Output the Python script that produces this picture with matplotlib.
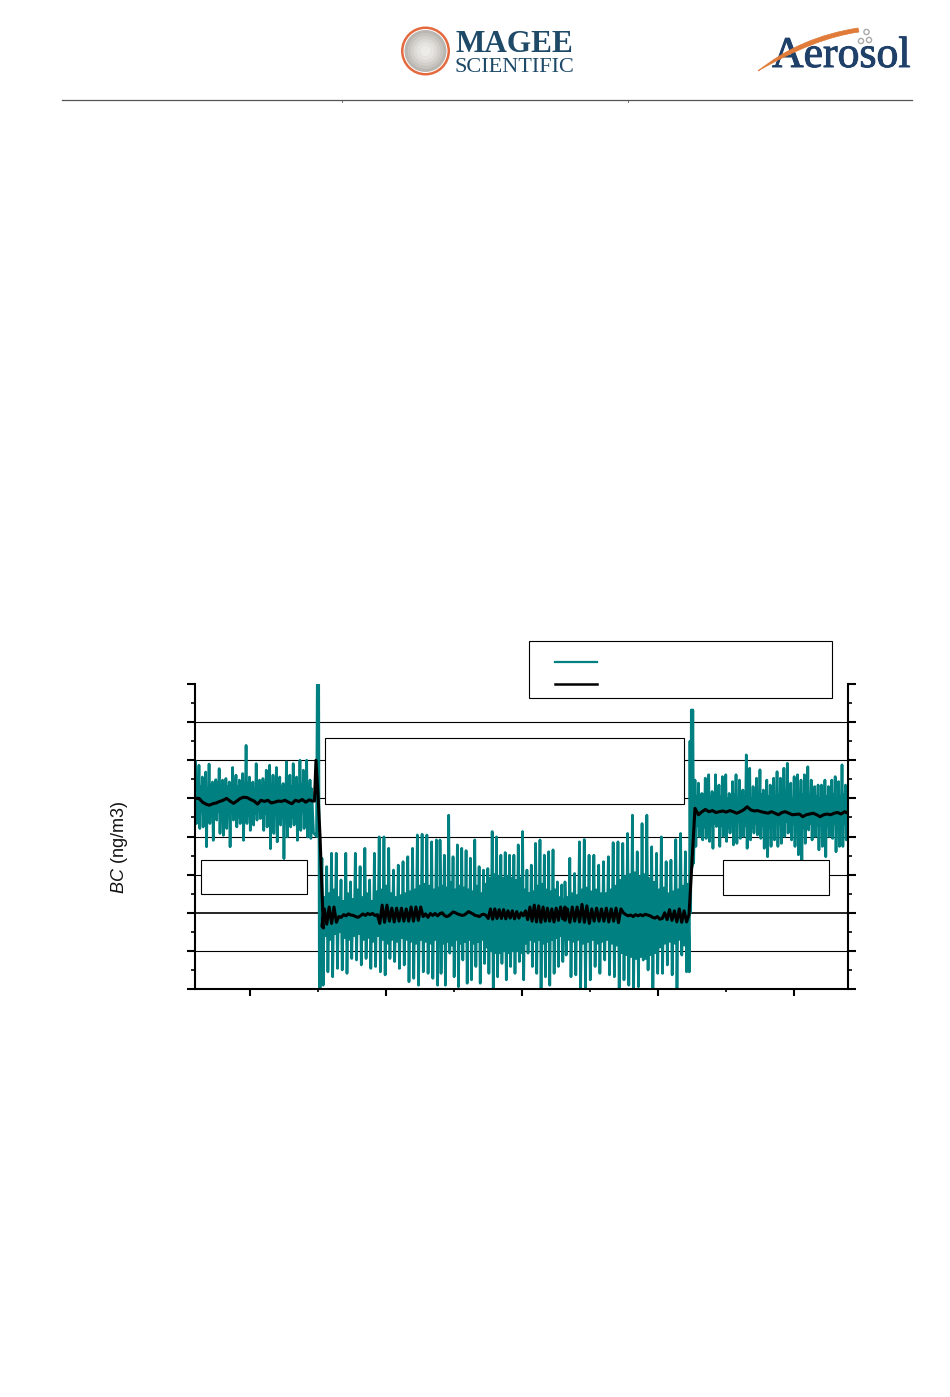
import numpy as np
import matplotlib
matplotlib.use("Agg")
import matplotlib.pyplot as plt
import matplotlib.patheffects as pe
from matplotlib.patches import Circle, Rectangle, PathPatch
from matplotlib.path import Path

plt.rcParams['font.family'] = ['Liberation Sans', 'DejaVu Sans']
plt.rcParams['mathtext.fontset'] = 'custom'
plt.rcParams['mathtext.it'] = 'Liberation Sans:italic'
plt.rcParams['mathtext.rm'] = 'Liberation Sans'

TEAL = '#008080'
Y_LABEL = r'$\mathit{BC}$ (ng/m3)'

# ---- teal series, read per oscillation cycle: peak, trough, inner high, inner low
left_top = [5.96,5.87,5.56,5.69,5.9,5.43,5.49,5.78,5.48,5.52,5.43,5.81,5.61,5.48,5.65,6.39,5.56,5.43,5.91,5.48,5.52,5.74,5.87,5.61,5.81,5.56,5.39,5.96,5.61,5.91,5.56,6.0,5.74,6.0,5.48]
left_lo = [4.6,4.65,4.55,4.7,4.6,4.5,4.65,4.6,4.55,4.7,4.6,4.65,4.5,4.6,4.7,4.55,4.65,4.6,4.7,4.5,4.6,4.55,4.65,4.7,4.6,4.55,4.65,4.6,4.5,4.7,4.6,4.65,4.55,4.6,4.65]
left_hi = [5.35,5.3,5.4,5.25,5.35,5.3,5.4,5.35,5.25,5.3,5.4,5.35,5.3,5.25,5.35,5.4,5.3,5.25,5.35,5.3,5.4,5.3,5.35,5.25,5.4,5.3,5.2,5.35,5.3,5.4,5.3,5.35,5.4,5.3,5.25]
left_bot = [4.34,4.21,4.25,3.73,4.34,3.9,4.43,4.08,4.03,4.21,3.73,4.43,4.25,4.34,3.9,4.34,4.16,4.3,4.43,4.47,4.16,4.25,3.68,4.08,3.86,4.3,3.42,3.99,4.25,4.3,3.9,4.16,4.21,3.99,3.95]

m1_top = [3.43,3.21,3.56,3.56,2.86,3.56,2.81,3.56,3.21,3.69,2.86,3.56,3.99,3.99,3.69,3.12,3.25,3.34,3.47,3.69,4.04,4.06,4.04,3.86,3.91]
m1_lo = [1.4,1.3,1.45,1.5,1.35,1.3,1.4,1.45,1.3,1.35,1.25,1.4,1.3,1.2,1.3,1.25,1.35,1.3,1.25,1.2,1.3,1.25,1.2,1.3,1.25]
m1_hi = [2.4,2.5,2.6,2.4,2.3,2.5,2.35,2.6,2.4,2.5,2.3,2.55,2.6,2.7,2.5,2.4,2.45,2.5,2.55,2.6,2.7,2.75,2.7,2.6,2.65]
m1_bot = [0.1,0.45,0.32,0.54,0.5,0.41,0.8,0.76,0.63,0.8,0.54,0.59,0.45,0.37,0.8,0.72,0.54,0.63,0.19,0.28,0.1,0.45,0.41,0.28,0.1]

m2_top = [3.91,3.51,4.56,3.47,3.78,3.69,3.63,3.43,3.91,3.21,3.12,3.16,4.13,3.99,3.51,3.58,3.51,3.51,3.78,4.13,3.12,3.25,3.82,3.91,3.51,3.6,3.65,2.81,2.73]
m2_lo = [1.2,1.25,1.15,1.3,1.2,1.25,1.3,1.2,1.25,1.3,1.1,1.0,0.95,0.95,1.0,0.95,1.0,1.0,0.95,1.2,1.3,1.25,1.3,1.2,1.25,1.3,1.35,1.4,1.3]
m2_hi = [2.7,2.65,2.8,2.6,2.7,2.65,2.6,2.55,2.7,2.5,2.75,2.9,3.0,2.95,2.9,2.95,2.9,2.85,2.9,2.6,2.5,2.55,2.7,2.75,2.6,2.55,2.6,2.4,2.35]
m2_bot = [0.41,0.1,0.94,0.32,0.06,0.76,0.15,0.24,0.59,0.15,0.67,0.41,0.02,0.32,0.67,0.24,0.59,0.41,0.72,0.24,0.94,0.59,0.41,0.02,0.32,0.1,0.41,0.59,0.72]

m3_top = [2.81,3.43,3.03,3.86,3.92,3.51,3.51,3.25,3.34,3.47,3.84,3.86,3.82,4.08,4.56,3.6,4.34,4.56,3.73,3.56,3.99,3.34,3.38,3.92,4.08,3.6]
m3_lo = [1.3,1.25,1.3,1.2,1.25,1.3,1.2,1.25,1.3,1.2,1.15,0.95,0.9,0.85,0.8,0.85,0.8,0.9,0.95,1.1,1.2,1.25,1.2,1.3,1.15,1.1]
m3_hi = [2.4,2.5,2.45,2.6,2.65,2.55,2.6,2.5,2.5,2.6,2.7,2.85,2.95,3.0,3.05,2.95,3.0,2.9,2.8,2.6,2.65,2.5,2.55,2.6,2.7,2.75]
m3_bot = [0.89,0.32,0.37,0.02,0.02,0.24,0.59,0.41,0.76,0.37,0.32,0.02,0.24,0.1,0.02,0.06,0.76,0.5,0.02,0.41,0.41,0.63,0.37,0.02,0.89,0.45]

right_top = [5.48,5.4,5.13,5.53,5.62,5.18,5.62,5.35,5.57,5.62,5.13,5.44,5.62,5.48,5.22,6.14,5.79,5.31,5.53,5.75,5.22,5.48,5.35,5.53,5.7,5.53,5.79,5.92,5.4,5.57,5.62,5.48,5.62,5.83,5.48,5.31,5.35,5.35,5.48,5.31,5.48,5.57,5.44,5.88,5.35]
right_lo = [4.3,4.35,4.25,4.4,4.3,4.35,4.45,4.3,4.4,4.25,4.35,4.3,4.4,4.35,4.3,4.4,4.25,4.35,4.4,4.3,4.35,4.25,4.3,4.4,4.35,4.3,4.4,4.25,4.35,4.3,4.4,4.25,4.3,4.35,4.4,4.3,4.35,4.25,4.3,4.4,4.35,4.3,4.25,4.35,4.3]
right_hi = [5.05,5.0,5.1,4.95,5.05,5.0,5.1,5.05,4.95,5.0,5.05,5.1,5.0,4.95,5.05,5.1,5.0,5.05,4.95,5.1,5.0,5.05,4.95,5.0,5.1,5.05,5.0,5.1,4.95,5.05,5.0,5.1,5.05,4.95,5.0,5.05,5.0,4.95,5.05,5.0,5.1,5.0,5.05,5.1,4.95]
right_bot = [3.74,4.0,3.91,3.95,3.87,3.69,4.26,3.74,4.0,3.87,4.09,3.78,3.82,3.95,4.0,3.69,3.91,4.09,4.04,3.95,3.69,3.47,3.74,3.91,3.74,3.82,4.0,4.09,3.91,3.74,3.52,3.38,3.82,4.17,3.91,4.0,3.65,3.74,3.47,4.0,3.95,3.6,3.74,3.74,3.91]

# teal samples around the two concentration steps (time, value)
step1_t = [14.67,14.89,14.95,15.0,15.05,15.1,15.18,15.24]
step1_v = [4.1,4.0,8.1,4.0,8.1,0.0,0.05,2.7]
step2_t = [42.3,42.35,42.4,42.45,42.5,42.56,42.62]
step2_v = [0.45,6.5,2.0,7.32,3.2,7.32,3.3]

# ---- black (smoothed) series
bl_left = [5.0,5.0,4.9,4.85,4.82,4.86,4.88,4.92,4.95,5.0,4.93,4.87,4.93,5.0,5.03,5.02,4.97,4.93,4.85,4.95,4.92,4.95,4.88,4.9,4.93,4.92,4.95,4.9,4.86,4.95,4.92,4.97,4.9,4.96,4.93]
bl_step1_t = [14.74,14.85,15.0,15.15,15.29,15.4]
bl_step1_v = [4.93,6.0,5.1,4.0,2.6,1.6]
bl_m1 = [1.65,2.1,1.7,2.15,1.72,2.15,1.75,1.9,1.88,1.95,1.92,1.97,1.94,1.93,1.9,1.88,1.92,1.97,1.93,1.98,1.95,1.98,1.93,1.95,
         1.72,2.2,1.75,2.2,1.78,2.12,1.76,2.12,1.78,2.12,1.78,2.1,1.78,2.15,1.78,2.15,1.8,2.15,
         1.9,1.97,1.88,1.98,1.93,1.98,1.92,1.97]
bl_m2 = [1.98,2.0,1.93,1.9,1.92,1.97,2.02,2.0,1.97,1.95,1.93,1.94,1.98,2.03,2.0,1.97,1.93,1.92,1.9,1.95,1.96,1.93,
         1.85,2.1,1.83,2.1,1.85,2.08,1.85,2.08,1.84,2.05,1.86,2.05,1.84,2.03,1.86,2.0,
         1.92,2.05,1.82,2.15,1.78,2.2,1.76,2.18,1.75,2.15,1.78,2.12,1.78,2.1,1.76,2.12,1.8,2.15,1.84,2.15]
bl_m3 = [1.8,2.1,1.75,2.15,1.78,2.15,1.76,2.22,1.75,2.18,1.72,2.1,1.78,2.12,1.78,2.1,1.78,2.12,1.76,2.1,1.78,2.12,1.74,2.1,
         2.0,1.95,1.92,1.94,1.9,1.95,1.92,1.95,1.92,1.96,1.94,1.92,1.88,1.86,1.9,1.83,
         1.85,2.0,1.82,2.08,1.8,2.05,1.76,2.1,1.75,2.05,1.76,1.95]
bl_right = [4.74,4.57,4.65,4.71,4.65,4.68,4.63,4.65,4.67,4.64,4.68,4.65,4.61,4.65,4.7,4.78,4.7,4.67,4.68,4.65,4.63,4.61,4.65,4.61,4.57,4.63,4.65,4.61,4.57,4.58,4.59,4.52,4.57,4.59,4.61,4.57,4.52,4.57,4.59,4.57,4.61,4.63,4.59,4.65,4.61]

# time spans of the segments
SPANS = {'left': (6.0, 14.6), 'm1': (15.29, 23.97), 'm2': (23.97, 33.16), 'm3': (33.16, 42.28), 'right': (42.72, 53.97)}
XLIM = (5.956, 53.97)
YLIM = (0, 8)


def flat(*lists):
    return [v for row in zip(*lists) for v in row]


def seg(name, values):
    a, b = SPANS[name]
    return np.linspace(a, b, len(values)), np.array(values)


t_parts = []
v_parts = []
t, v = seg('left', flat(left_top, left_bot, left_hi, left_lo))
t_parts.append(t); v_parts.append(v)
t_parts.append(np.array(step1_t)); v_parts.append(np.array(step1_v))
for name, lists in [('m1', (m1_top, m1_bot, m1_hi, m1_lo)), ('m2', (m2_top, m2_bot, m2_hi, m2_lo)), ('m3', (m3_top, m3_bot, m3_hi, m3_lo))]:
    t, v = seg(name, flat(*lists))
    t_parts.append(t); v_parts.append(v)
t_parts.append(np.array(step2_t)); v_parts.append(np.array(step2_v))
t, v = seg('right', flat(right_top, right_bot, right_hi, right_lo))
t_parts.append(t); v_parts.append(v)
teal_t = np.concatenate(t_parts)
teal_v = np.concatenate(v_parts)

b_parts = [seg('left', bl_left), (np.array(bl_step1_t), np.array(bl_step1_v)),
           seg('m1', bl_m1), seg('m2', bl_m2), seg('m3', bl_m3), seg('right', bl_right)]
black_t = np.concatenate([p[0] for p in b_parts])
black_v = np.concatenate([p[1] for p in b_parts])

W, H = 950, 1397
fig = plt.figure(figsize=(W / 100, H / 100), dpi=100, facecolor='white')

# pixel-space layer for page furniture
bg = fig.add_axes([0, 0, 1, 1], zorder=0)
bg.set_xlim(0, W); bg.set_ylim(H, 0); bg.axis('off')
bg.plot([62, 911.5], [100, 100], color='#555555', lw=0.9)
for xp in (342, 628):
    bg.plot([xp, xp], [99.5, 102], color='#555555', lw=0.6)

# Magee logo
bg.add_patch(Circle((425.5, 51), 24.5, fc='#E4693F', ec='none'))
bg.add_patch(Circle((425.5, 51), 22, fc='white', ec='none'))
for r, c in [(21, '#b9b6b1'), (18, '#c6c3be'), (15, '#d2cfcb'), (12, '#dcdad6'), (9, '#e5e3e0'), (5, '#ecebe8')]:
    bg.add_patch(Circle((425.5, 51), r, fc=c, ec='none'))
bg.text(455, 52, 'MAGEE', family='Liberation Serif', weight='bold', fontsize=22.5, color='#1E4A68', va='baseline', ha='left')
bg.text(455, 71.5, 'SCIENTIFIC', family='Liberation Serif', fontsize=16, color='#1E4A68', va='baseline', ha='left')

# Aerosol logo
bg.text(772, 67, 'Aerosol', family='Liberation Serif', fontsize=31.5, color='#1F4069', va='baseline', ha='left',
        path_effects=[pe.withStroke(linewidth=0.7, foreground='#1F4069')])
swoosh = Path([(758, 71), (800, 37), (858, 28), (859, 32), (815, 38), (758, 71)],
              [Path.MOVETO, Path.CURVE3, Path.CURVE3, Path.LINETO, Path.CURVE3, Path.CURVE3])
bg.add_patch(PathPatch(swoosh, fc='#E07B39', ec='#E07B39', lw=0.5, zorder=5))
for c in [(866.5, 32), (861, 41), (869, 40)]:
    bg.add_patch(Circle(c, 2.6, fc='white', ec='#a9a9a9', lw=1.0, zorder=5))

# chart
left, right, bottom, top = 195, 848, 989, 684
ax = fig.add_axes([left / W, 1 - bottom / H, (right - left) / W, (bottom - top) / H], zorder=1)
ax.patch.set_alpha(0)
ax.set_xlim(*XLIM); ax.set_ylim(*YLIM)
ax.spines['top'].set_visible(False)
for s in ('left', 'right', 'bottom'):
    ax.spines[s].set_linewidth(1.5)
ax.set_xticks([10, 20, 30, 40, 50])
ax.set_xticks([15, 25, 35, 45], minor=True)
ax.set_yticks(range(0, 9))
ax.set_yticks(np.arange(0.5, 8, 1), minor=True)
ax.tick_params(axis='x', which='major', length=5, width=1.5, direction='out', labelbottom=False)
ax.tick_params(axis='x', which='minor', length=2.4, width=1.2, direction='out')
ax.tick_params(axis='y', which='major', length=6, width=1.5, direction='out', left=True, right=True, labelleft=False)
ax.tick_params(axis='y', which='minor', length=3.2, width=1.2, direction='out', left=True, right=True)
for yv in range(1, 8):
    ax.axhline(yv, color='black', lw=1.2 if yv == 2 else 0.8, zorder=1)
ax.plot(teal_t, teal_v, color=TEAL, lw=1.95, solid_joinstyle='round', zorder=2)
ax.plot(black_t, black_v, color='black', lw=2.2, solid_joinstyle='round', zorder=3)

fig.text(120 / W, 1 - 848 / H, Y_LABEL, rotation=90, ha='center', va='center', fontsize=13, color='#111111')

# overlay with empty annotation boxes and legend frame
fg = fig.add_axes([0, 0, 1, 1], zorder=2)
fg.set_xlim(0, W); fg.set_ylim(H, 0); fg.axis('off'); fg.patch.set_alpha(0)
for (x0, y0, x1, y1) in [(325, 738, 684, 803.5), (201, 860, 307, 894), (722.5, 860, 829, 894.5), (528.5, 641, 832, 697.5)]:
    fg.add_patch(Rectangle((x0, y0), x1 - x0, y1 - y0, fc='white', ec='black', lw=0.8))
fg.plot([555, 597], [662, 662], color=TEAL, lw=1.6)
fg.plot([555, 597], [684, 684], color='black', lw=1.8)

fig.savefig('out.png', dpi=100)
